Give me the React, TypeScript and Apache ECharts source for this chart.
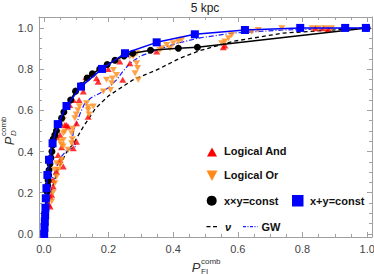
import React, { useEffect, useRef } from "react";
import * as echarts from "echarts";

const majorTicks = [0, 0.2, 0.4, 0.6, 0.8, 1.0];
const minorTicks = [0.05, 0.1, 0.15, 0.25, 0.3, 0.35, 0.45, 0.5, 0.55, 0.65, 0.7, 0.75, 0.85, 0.9, 0.95];

const prodConst = [
  [0, 0], [0.004, 0.1], [0.008, 0.17], [0.01, 0.205], [0.012, 0.235], [0.013, 0.26], [0.015, 0.285],
  [0.016, 0.31], [0.019, 0.34], [0.022, 0.37], [0.025, 0.4], [0.027, 0.43], [0.029, 0.46],
  [0.034, 0.48], [0.039, 0.501], [0.047, 0.534], [0.055, 0.562], [0.062, 0.592], [0.07, 0.621],
  [0.083, 0.65], [0.098, 0.693], [0.116, 0.72], [0.134, 0.757], [0.15, 0.777], [0.173, 0.801],
  [0.196, 0.822], [0.22, 0.843], [0.248, 0.864], [0.275, 0.877], [0.33, 0.892], [0.416, 0.901],
  [0.475, 0.906], [1, 1],
];

const sumConst = [
  [0.001, 0.0], [0.002, 0.03], [0.003, 0.06], [0.004, 0.09], [0.005, 0.127], [0.006, 0.173],
  [0.008, 0.222], [0.011, 0.286], [0.016, 0.36], [0.027, 0.44], [0.043, 0.533], [0.07, 0.621],
  [0.115, 0.715], [0.18, 0.801], [0.251, 0.877], [0.349, 0.93], [0.467, 0.969], [0.622, 0.99],
  [0.793, 1.0], [0.932, 1.0], [0.996, 1.0],
];

const nuCurve = [
  [0, 0], [0.005, 0.05], [0.013, 0.13], [0.025, 0.22], [0.044, 0.315], [0.07, 0.395],
  [0.096, 0.45], [0.122, 0.52], [0.16, 0.61], [0.2, 0.67], [0.276, 0.748], [0.349, 0.796],
  [0.421, 0.853], [0.483, 0.89], [0.586, 0.935], [0.741, 0.975], [1, 1],
];

const gwCurve = [
  [0, 0], [0.005, 0.08], [0.013, 0.165], [0.019, 0.246], [0.034, 0.3], [0.05, 0.367],
  [0.07, 0.405], [0.1, 0.425], [0.088, 0.46], [0.092, 0.5], [0.101, 0.537], [0.111, 0.58],
  [0.125, 0.63], [0.145, 0.66], [0.173, 0.683], [0.2, 0.71], [0.225, 0.748], [0.245, 0.79],
  [0.266, 0.828], [0.297, 0.862], [0.349, 0.893], [0.411, 0.925], [0.483, 0.952],
  [0.586, 0.975], [0.741, 0.99], [1, 1],
];

const logicalAnd = [
  [0.016, 0.141], [0.019, 0.133], [0.019, 0.181], [0.024, 0.19], [0.029, 0.23], [0.029, 0.262],
  [0.039, 0.302], [0.06, 0.327], [0.05, 0.359], [0.044, 0.383], [0.091, 0.416], [0.101, 0.448],
  [0.055, 0.421], [0.05, 0.48], [0.04, 0.47], [0.065, 0.529], [0.05, 0.537], [0.075, 0.521],
  [0.07, 0.529], [0.101, 0.537], [0.137, 0.569], [0.08, 0.626], [0.091, 0.65], [0.109, 0.65],
  [0.122, 0.691], [0.13, 0.76], [0.163, 0.756], [0.168, 0.739], [0.199, 0.8], [0.235, 0.837],
  [0.244, 0.748], [0.266, 0.828], [0.349, 0.885], [0.555, 0.906], [0.56, 0.915],
  [0.84, 0.998], [0.865, 0.998], [0.88, 0.995],
];

const logicalOr = [
  [0.024, 0.157], [0.028, 0.2], [0.034, 0.246], [0.039, 0.278], [0.044, 0.311], [0.05, 0.335],
  [0.055, 0.359], [0.039, 0.343], [0.034, 0.311], [0.06, 0.424], [0.055, 0.432], [0.05, 0.448],
  [0.075, 0.408], [0.06, 0.456], [0.06, 0.489], [0.065, 0.497], [0.086, 0.44], [0.088, 0.46],
  [0.086, 0.489], [0.09, 0.51], [0.06, 0.553], [0.096, 0.561], [0.1, 0.58], [0.105, 0.6],
  [0.11, 0.62], [0.132, 0.634], [0.137, 0.6], [0.14, 0.58], [0.137, 0.615], [0.153, 0.618],
  [0.184, 0.691], [0.194, 0.748], [0.206, 0.699], [0.21, 0.731], [0.212, 0.755], [0.225, 0.772],
  [0.215, 0.796], [0.266, 0.861], [0.276, 0.861], [0.287, 0.877], [0.287, 0.828], [0.282, 0.78],
  [0.292, 0.748], [0.29, 0.805], [0.359, 0.893], [0.364, 0.901], [0.38, 0.917], [0.39, 0.901],
  [0.4, 0.926], [0.416, 0.934], [0.426, 0.942], [0.55, 0.926], [0.56, 0.934], [0.571, 0.95],
  [0.581, 0.966], [0.643, 0.982], [0.663, 0.99], [0.736, 0.998], [0.83, 0.998], [0.85, 0.998],
  [0.87, 0.998], [0.89, 0.998],
];

const FRAME = "#a0a0a0";
const LABEL = "#444";

function makeAxis(position: string, labels: boolean, ticks: number[], len: number, line: boolean) {
  return {
    type: "value",
    min: -0.015,
    max: position === "left" || position === "right" ? 1.053 : 1.015,
    position,
    axisLine: { show: line, onZero: false, lineStyle: { color: FRAME, width: 1 } },
    axisTick: { show: true, inside: true, length: len, customValues: ticks, lineStyle: { color: FRAME, width: 1 } },
    axisLabel: {
      show: labels,
      customValues: ticks,
      formatter: (v: number) => v.toFixed(1),
      color: LABEL,
      fontSize: 11,
      fontFamily: "Liberation Sans, Arial, sans-serif",
      margin: 6,
    },
    splitLine: { show: false },
  };
}

export default function App() {
  const ref = useRef<HTMLDivElement>(null);
  useEffect(() => {
    if (!ref.current) return;
    const chart = echarts.init(ref.current, null, { renderer: "svg" });
    const font = "Liberation Sans, Arial, sans-serif";
    const legendText = (x: number, y: number, t: string, italic = false) => ({
      type: "text",
      x,
      y,
      style: {
        text: t,
        fontSize: 11,
        fontWeight: "bold",
        fontStyle: italic ? "italic" : "normal",
        fontFamily: font,
        fill: "#111",
        verticalAlign: "middle",
        align: "left",
      },
    });
    chart.setOption({
      animation: false,
      grid: { left: 39, right: 2, top: 17, bottom: 38, containLabel: false, outerBoundsMode: "none" },
      xAxis: [
        makeAxis("bottom", true, majorTicks, 5, true),
        makeAxis("bottom", false, minorTicks, 3, false),
        makeAxis("top", false, majorTicks, 5, true),
        makeAxis("top", false, minorTicks, 3, false),
      ],
      yAxis: [
        makeAxis("left", true, majorTicks, 5, true),
        makeAxis("left", false, minorTicks, 3, false),
        makeAxis("right", false, majorTicks, 5, true),
        makeAxis("right", false, minorTicks, 3, false),
      ],
      series: [
        {
          name: "GW",
          type: "line",
          data: gwCurve,
          showSymbol: false,
          symbol: "none",
          lineStyle: { color: "#1a1aff", width: 1.2, type: [5, 2, 1, 2] },
          z: 2,
        },
        {
          name: "nu",
          type: "line",
          data: nuCurve,
          symbol: "none",
          lineStyle: { color: "#000", width: 1.3, type: [4, 3] },
          z: 2,
        },
        {
          name: "Logical And",
          type: "scatter",
          data: logicalAnd,
          symbol: "triangle",
          symbolSize: [7, 6],
          itemStyle: { color: "#ff0000" },
          z: 3,
        },
        {
          name: "Logical Or",
          type: "scatter",
          data: logicalOr,
          symbol: "triangle",
          symbolRotate: 180,
          symbolSize: [7, 6],
          itemStyle: { color: "#ff8c1a" },
          z: 3,
        },
        {
          name: "x×y=const",
          type: "line",
          data: prodConst,
          symbol: "circle",
          symbolSize: 7,
          showAllSymbol: true,
          itemStyle: { color: "#000" },
          lineStyle: { color: "#000", width: 1.5 },
          z: 4,
        },
        {
          name: "x+y=const",
          type: "line",
          data: sumConst,
          symbol: "rect",
          symbolSize: 8,
          showAllSymbol: true,
          itemStyle: { color: "#0000ff" },
          lineStyle: { color: "#0000ff", width: 1.5 },
          z: 5,
        },
      ],
      graphic: [
        {
          type: "text",
          x: 205,
          y: 8,
          style: { text: "5 kpc", fontSize: 12, fontFamily: font, fill: "#222", align: "center", verticalAlign: "middle" },
        },
        {
          type: "text",
          x: 196,
          y: 267,
          style: { text: "P", fontSize: 13, fontStyle: "italic", fontFamily: font, fill: "#333", align: "center", verticalAlign: "middle" },
        },
        {
          type: "text",
          x: 201,
          y: 261,
          style: { text: "comb", fontSize: 8, fontFamily: font, fill: "#333", align: "left", verticalAlign: "middle" },
        },
        {
          type: "text",
          x: 201,
          y: 271,
          style: { text: "FI", fontSize: 8, fontFamily: font, fill: "#333", align: "left", verticalAlign: "middle" },
        },
        {
          type: "group",
          x: 9,
          y: 141,
          rotation: Math.PI / 2,
          children: [
            {
              type: "text",
              x: 0,
              y: 0,
              style: { text: "P", fontSize: 13, fontStyle: "italic", fontFamily: font, fill: "#333", align: "center", verticalAlign: "middle" },
            },
            {
              type: "text",
              x: 5,
              y: -6,
              style: { text: "comb", fontSize: 8, fontFamily: font, fill: "#333", align: "left", verticalAlign: "middle" },
            },
            {
              type: "text",
              x: 5,
              y: 4,
              style: { text: "D", fontSize: 8, fontStyle: "italic", fontFamily: font, fill: "#333", align: "left", verticalAlign: "middle" },
            },
          ],
        },
        {
          type: "polygon",
          shape: { points: [[212, 147.5], [207, 156.5], [217, 156.5]] },
          style: { fill: "#ff0000" },
        },
        legendText(224, 150.5, "Logical And"),
        {
          type: "polygon",
          shape: { points: [[206.5, 170.5], [217.5, 170.5], [212, 181]] },
          style: { fill: "#ff8c1a" },
        },
        legendText(224, 175, "Logical Or"),
        { type: "circle", shape: { cx: 211.7, cy: 200.7, r: 5 }, style: { fill: "#000" } },
        legendText(224, 201, "x×y=const"),
        { type: "rect", shape: { x: 292, y: 195, width: 11.5, height: 11.5 }, style: { fill: "#0000ff" } },
        legendText(310, 201, "x+y=const"),
        {
          type: "line",
          shape: { x1: 206.5, y1: 226.7, x2: 217, y2: 226.7 },
          style: { stroke: "#000", lineWidth: 1.3, lineDash: [4, 2.5] },
        },
        legendText(225, 226.5, "ν", true),
        {
          type: "line",
          shape: { x1: 243, y1: 226.7, x2: 257.5, y2: 226.7 },
          style: { stroke: "#1a1aff", lineWidth: 1.2, lineDash: [3, 1.5, 1, 1.5] },
        },
        legendText(261.5, 226.5, "GW"),
      ],
    });
    return () => chart.dispose();
  }, []);
  return <div ref={ref} style={{ width: 374, height: 275, position: "absolute", left: 0, top: 0 }} />;
}
